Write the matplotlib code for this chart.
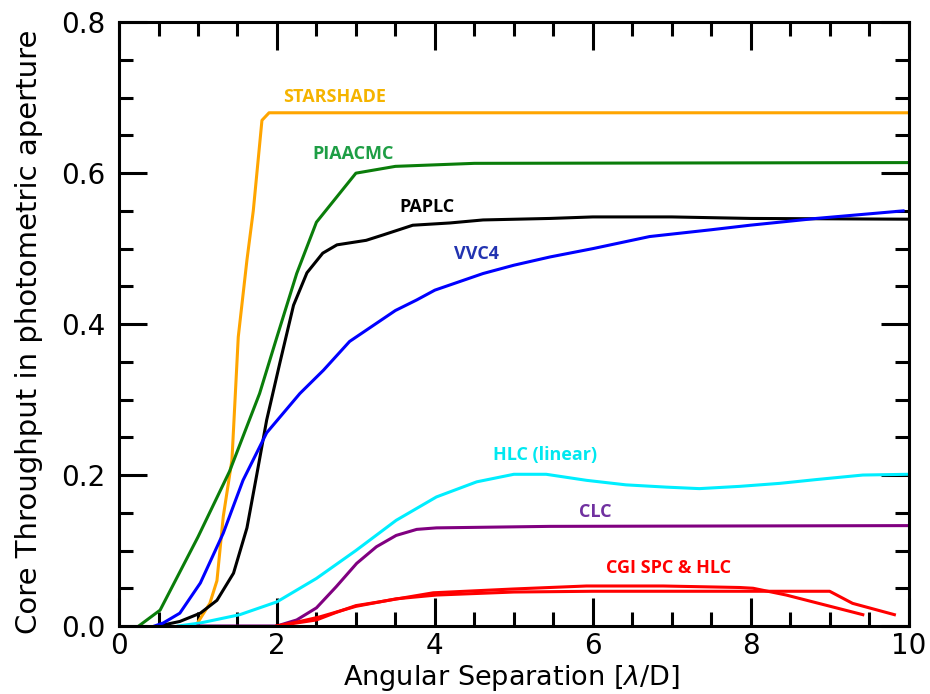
import numpy as np
import matplotlib.pyplot as plt
from matplotlib.ticker import MultipleLocator

# values
starshade_x = [0.97, 1.0, 1.15, 1.24, 1.32, 1.43, 1.51, 1.62, 1.70, 1.81, 1.9, 10.0]
starshade_y = [0.0, 0.005, 0.03, 0.06, 0.145, 0.22, 0.383, 0.485, 0.55, 0.67, 0.68, 0.68]

piaacmc_x = [0.25, 0.52, 1.0, 1.4, 1.78, 2.0, 2.25, 2.5, 3.0, 3.5, 4.5, 10.0]
piaacmc_y = [0.0, 0.021, 0.118, 0.205, 0.308, 0.383, 0.467, 0.535, 0.600, 0.609, 0.613, 0.614]

paplc_x = [0.5, 0.77, 1.03, 1.24, 1.45, 1.62, 1.74, 1.87, 2.04, 2.21, 2.38, 2.58, 2.76,
           3.13, 3.34, 3.72, 4.19, 4.61, 5.46, 6.0, 7.0, 8.0, 10.0]
paplc_y = [0.0, 0.006, 0.017, 0.034, 0.07, 0.13, 0.198, 0.273, 0.350, 0.425, 0.468, 0.494, 0.505,
           0.511, 0.518, 0.531, 0.534, 0.538, 0.540, 0.542, 0.542, 0.540, 0.539]

vvc4_x = [0.45, 0.56, 0.77, 1.03, 1.32, 1.57, 1.87, 2.29, 2.59, 2.92, 3.5, 3.77, 4.0, 4.61,
          5.0, 5.46, 6.0, 6.72, 7.5, 7.99, 8.83, 9.93]
vvc4_y = [0.0, 0.004, 0.017, 0.057, 0.123, 0.193, 0.256, 0.308, 0.339, 0.377, 0.418, 0.432, 0.445, 0.467,
          0.478, 0.489, 0.500, 0.516, 0.525, 0.531, 0.540, 0.550]

hlc_lin_x = [0.75, 1.03, 1.53, 2.0, 2.5, 3.0, 3.51, 4.02, 4.53, 5.0, 5.41, 5.92, 6.42, 6.93,
             7.35, 7.86, 8.37, 8.83, 9.42, 10.0]
hlc_lin_y = [0.0, 0.004, 0.015, 0.032, 0.063, 0.100, 0.140, 0.171, 0.191, 0.201, 0.201, 0.193, 0.187, 0.184,
             0.182, 0.185, 0.189, 0.194, 0.200, 0.201]

clc_x = [1.0, 2.0, 2.25, 2.5, 2.75, 3.01, 3.26, 3.51, 3.77, 4.02, 5.46, 10.0]
clc_y = [0.0, 0.0, 0.008, 0.024, 0.052, 0.083, 0.105, 0.120, 0.128, 0.130, 0.132, 0.133]

cgi_a_x = [2.0, 2.29, 2.54, 3.0, 3.51, 4.02, 5.0, 6.0, 7.0, 8.0, 9.0, 9.29, 9.82]
cgi_a_y = [0.0, 0.006, 0.012, 0.026, 0.036, 0.041, 0.045, 0.046, 0.046, 0.046, 0.046, 0.030, 0.015]

cgi_b_x = [2.0, 2.5, 2.75, 3.0, 3.3, 3.98, 4.99, 5.92, 6.89, 7.86, 8.03, 8.45, 9.42]
cgi_b_y = [0.0, 0.008, 0.018, 0.027, 0.032, 0.044, 0.049, 0.053, 0.053, 0.051, 0.050, 0.041, 0.015]

label_text = ['STARSHADE', 'PIAACMC', 'PAPLC', 'VVC4', 'HLC (linear)', 'CLC', 'CGI SPC & HLC']
label_x = [2.73, 2.96, 3.9, 4.53, 5.39, 6.03, 6.96]
label_y = [0.701, 0.625, 0.555, 0.493, 0.227, 0.151, 0.077]
label_color = ['#f5b400', '#1e9e45', 'black', '#2233b0', '#00e8f0', '#7030a0', '#ff0000']

fig = plt.figure(figsize=(9.3, 6.94), dpi=100)
ax = fig.add_axes([0.128, 0.098, 0.849, 0.870])

lw = 2.2
ax.plot(starshade_x, starshade_y, color='#ffa500', lw=lw)
ax.plot(piaacmc_x, piaacmc_y, color='#0a7d0a', lw=lw)
ax.plot(paplc_x, paplc_y, color='black', lw=lw)
ax.plot(vvc4_x, vvc4_y, color='#0000ff', lw=lw)
ax.plot(hlc_lin_x, hlc_lin_y, color='#00eeff', lw=lw)
ax.plot(clc_x, clc_y, color='#800080', lw=lw)
ax.plot(cgi_a_x, cgi_a_y, color='#ff0000', lw=lw)
ax.plot(cgi_b_x, cgi_b_y, color='#ff0000', lw=lw)

for t, x, y, c in zip(label_text, label_x, label_y, label_color):
    ax.text(x, y, t, color=c, fontsize=13, fontweight='bold', family='Open Sans',
            ha='center', va='center')

ax.set_xlim(0, 10)
ax.set_ylim(0, 0.8)
ax.xaxis.set_major_locator(MultipleLocator(2))
ax.xaxis.set_minor_locator(MultipleLocator(0.5))
ax.yaxis.set_major_locator(MultipleLocator(0.2))
ax.yaxis.set_minor_locator(MultipleLocator(0.05))
ax.xaxis.set_major_formatter(plt.FuncFormatter(lambda v, p: '%d' % v))
ax.yaxis.set_major_formatter(plt.FuncFormatter(lambda v, p: '%.1f' % v))

ax.tick_params(which='both', direction='in', top=True, right=True, width=2.2, labelsize=20)
ax.tick_params(which='major', length=20)
ax.tick_params(which='minor', length=10)
ax.tick_params(axis='x', which='major', pad=4)
ax.tick_params(axis='y', which='major', pad=10)
for s in ax.spines.values():
    s.set_linewidth(2.2)

ax.set_xlabel(r'Angular Separation [$\lambda$/D]', fontsize=19.5)
ax.set_ylabel('Core Throughput in photometric aperture', fontsize=21)
ax.xaxis.set_label_coords(0.497, -0.062)
ax.yaxis.set_label_coords(-0.096, 0.488)

fig.savefig('out.png', dpi=100)
